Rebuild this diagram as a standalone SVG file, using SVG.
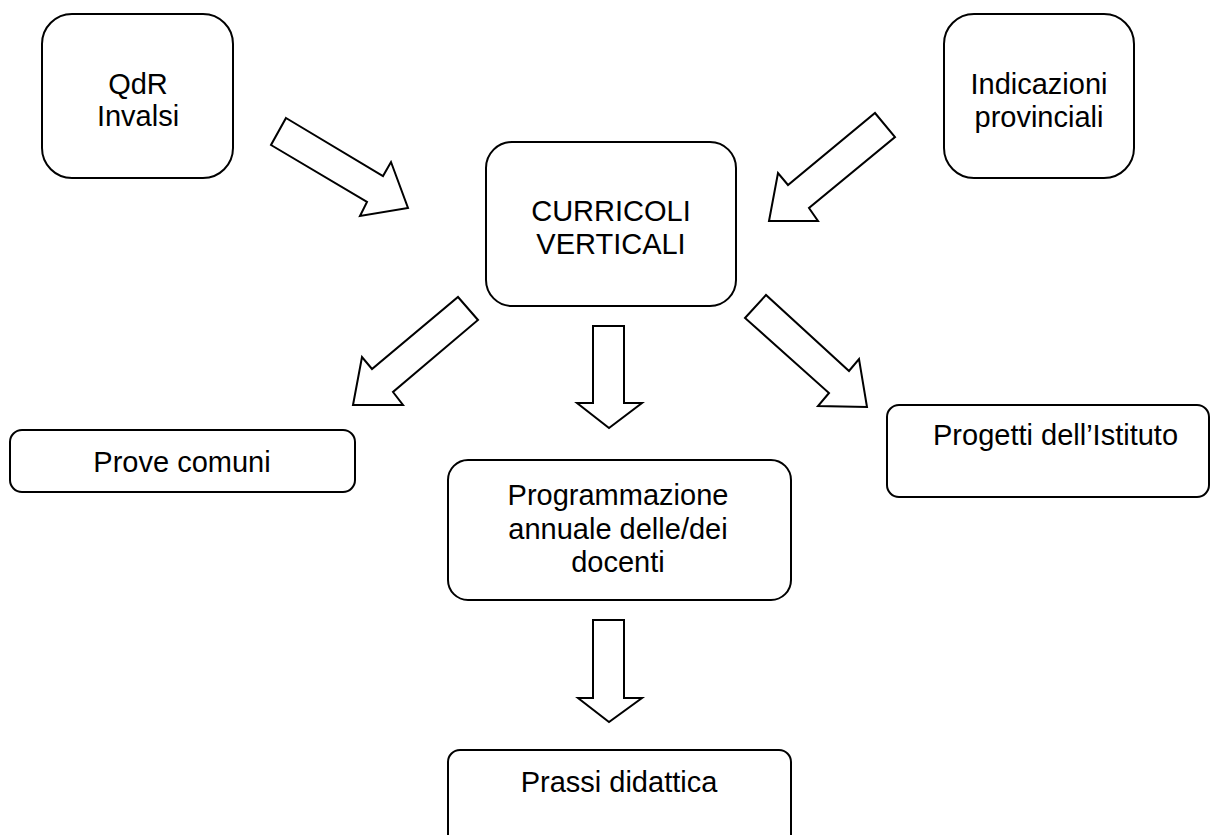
<svg xmlns="http://www.w3.org/2000/svg" width="1216" height="835" viewBox="0 0 1216 835">
<style>
.box{fill:#fff;stroke:#000;stroke-width:2}
.arr{fill:#fff;stroke:#000;stroke-width:2;stroke-linejoin:miter}
text{font-family:"Liberation Sans",Arial,sans-serif;font-size:29px;fill:#000;text-anchor:middle}
</style>
<rect width="1216" height="835" fill="#fff"/>
<g id="connectors">
<polygon class="arr" points="286,118 383,176 391,162 408,208 360,216 367,202 271,145"/>
<polygon class="arr" points="875,113 895,137 809,208 818,221 769,221 778,173 788,185"/>
<polygon class="arr" points="458,297 478,320 393,392 403,405 353,405 362,357 372,369"/>
<polygon class="arr" points="593,326 624,326 624,403 642,403 609,428 577,403 593,403"/>
<polygon class="arr" points="766,295 745,318 829,393 818,406 867,407 859,359 849,371"/>
<polygon class="arr" points="593,620 624,620 624,698 642,698 609,722 578,698 593,698"/>
</g>
<g id="qdr">
<rect class="box" x="42" y="14" width="191" height="164" rx="30"/>
<text x="138" y="94">QdR</text>
<text x="138" y="126">Invalsi</text>
</g>
<g id="indicazioni">
<rect class="box" x="944" y="14" width="190" height="164" rx="30"/>
<text x="1039" y="94">Indicazioni</text>
<text x="1039" y="127">provinciali</text>
</g>
<g id="curricoli">
<rect class="box" x="486" y="142" width="250" height="164" rx="26"/>
<text x="611" y="221">CURRICOLI</text>
<text x="611" y="254">VERTICALI</text>
</g>
<g id="prove">
<rect class="box" x="10" y="430" width="345" height="62" rx="12"/>
<text x="182" y="472">Prove comuni</text>
</g>
<g id="programmazione">
<rect class="box" x="448" y="460" width="343" height="140" rx="20"/>
<text x="618" y="505">Programmazione</text>
<text x="618" y="539">annuale delle/dei</text>
<text x="618" y="572">docenti</text>
</g>
<g id="progetti">
<rect class="box" x="887" y="405" width="322" height="92" rx="12"/>
<text x="933" y="445" style="text-anchor:start">Progetti dell’Istituto</text>
</g>
<g id="prassi">
<rect class="box" x="448" y="750" width="343" height="100" rx="12"/>
<text x="619" y="792">Prassi didattica</text>
</g>
</svg>
